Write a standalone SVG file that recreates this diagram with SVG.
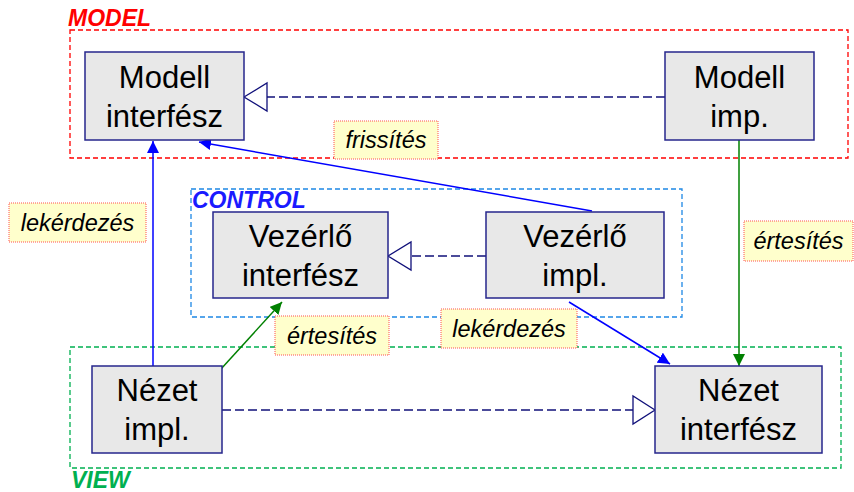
<svg xmlns="http://www.w3.org/2000/svg" width="854" height="492" viewBox="0 0 854 492">
  <style>
    .pkg { fill: none; stroke-width: 1.3; stroke-dasharray: 5 3; }
    .pkgtitle { font-family: "Liberation Sans", Arial, sans-serif; font-weight: bold; font-style: italic; font-size: 23px; }
    .node rect { fill: #E8E8E8; stroke: #26268C; stroke-width: 1.5; }
    .node text { font-family: "Liberation Sans", Arial, sans-serif; font-size: 31px; fill: #000; text-anchor: middle; }
    .real { fill: none; stroke: #10107A; stroke-width: 1.4; stroke-dasharray: 9 4; }
    .tri { fill: #fff; stroke: #10107A; stroke-width: 1.3; }
    .blue { stroke: #0000FF; stroke-width: 1.5; fill: none; }
    .green { stroke: #008000; stroke-width: 1.5; fill: none; }
    .lbl rect { fill: #FFFFCC; stroke: #FF5050; stroke-width: 1; stroke-dasharray: 1 1; }
    .lbl text { font-family: "Liberation Sans", Arial, sans-serif; font-style: italic; font-size: 23.5px; fill: #000; text-anchor: middle; }
  </style>
  <defs>
    <marker id="arrowBlue" viewBox="0 0 12 12" refX="12" refY="6" markerWidth="12" markerHeight="12" markerUnits="userSpaceOnUse" orient="auto">
      <path d="M0,0 L12,6 L0,12 Z" fill="#0000FF"/>
    </marker>
    <marker id="arrowGreen" viewBox="0 0 12 12" refX="12" refY="6" markerWidth="12" markerHeight="12" markerUnits="userSpaceOnUse" orient="auto">
      <path d="M0,0 L12,6 L0,12 Z" fill="#008000"/>
    </marker>
  </defs>

  <!-- packages -->
  <g id="pkg-model">
    <rect class="pkg" x="70" y="30" width="778" height="128" stroke="#FF0000"/>
    <text class="pkgtitle" x="68" y="26" fill="#FF0000">MODEL</text>
  </g>
  <g id="pkg-control">
    <rect class="pkg" x="191" y="189" width="491" height="128" stroke="#1E88E5"/>
    <text class="pkgtitle" x="192" y="208" fill="#1A1AFF">CONTROL</text>
  </g>
  <g id="pkg-view">
    <rect class="pkg" x="70" y="347" width="771" height="121" stroke="#00B050"/>
    <text class="pkgtitle" x="71" y="488" fill="#00B050">VIEW</text>
  </g>

  <!-- connectors -->
  <g id="connectors">
    <!-- realizations -->
    <line class="real" x1="665" y1="97" x2="267" y2="97"/>
    <path class="tri" d="M244,97 L267,83 L267,111 Z"/>
    <line class="real" x1="486" y1="256" x2="411" y2="256"/>
    <path class="tri" d="M388,256 L411,242 L411,270 Z"/>
    <line class="real" x1="222" y1="410" x2="633" y2="410"/>
    <path class="tri" d="M655,410 L633,396 L633,424 Z"/>
    <!-- queries / updates -->
    <line class="blue" x1="153" y1="366" x2="153" y2="141" marker-end="url(#arrowBlue)"/>
    <line class="blue" x1="592" y1="211" x2="199" y2="142" marker-end="url(#arrowBlue)"/>
    <line class="blue" x1="569" y1="302" x2="670" y2="364" marker-end="url(#arrowBlue)"/>
    <!-- notifications -->
    <line class="green" x1="739" y1="140" x2="739" y2="366" marker-end="url(#arrowGreen)"/>
    <line class="green" x1="221" y1="369" x2="282" y2="302" marker-end="url(#arrowGreen)"/>
  </g>

  <!-- nodes -->
  <g id="modell-interfesz" class="node">
    <rect x="85" y="52" width="159" height="88"/>
    <text x="164.5" y="88">Modell</text>
    <text x="164.5" y="127">interfész</text>
  </g>
  <g id="modell-imp" class="node">
    <rect x="665" y="52" width="149" height="88"/>
    <text x="739.5" y="88">Modell</text>
    <text x="739.5" y="127">imp.</text>
  </g>
  <g id="vezerlo-interfesz" class="node">
    <rect x="213" y="212" width="175" height="86"/>
    <text x="300.5" y="247">Vezérlő</text>
    <text x="300.5" y="286">interfész</text>
  </g>
  <g id="vezerlo-impl" class="node">
    <rect x="486" y="212" width="178" height="86"/>
    <text x="575" y="247">Vezérlő</text>
    <text x="575" y="286">impl.</text>
  </g>
  <g id="nezet-impl" class="node">
    <rect x="92" y="366" width="130" height="87"/>
    <text x="157" y="401">Nézet</text>
    <text x="157" y="440">impl.</text>
  </g>
  <g id="nezet-interfesz" class="node">
    <rect x="655" y="366" width="167" height="87"/>
    <text x="738.5" y="401">Nézet</text>
    <text x="738.5" y="440">interfész</text>
  </g>

  <!-- connector labels -->
  <g id="lbl-frissites" class="lbl">
    <rect x="334" y="121" width="104" height="38"/>
    <text x="386" y="148">frissítés</text>
  </g>
  <g id="lbl-lekerdezes-left" class="lbl">
    <rect x="9" y="203" width="137" height="39"/>
    <text x="77.5" y="231">lekérdezés</text>
  </g>
  <g id="lbl-ertesites-right" class="lbl">
    <rect x="744" y="221" width="109" height="40"/>
    <text x="798.5" y="249">értesítés</text>
  </g>
  <g id="lbl-ertesites-mid" class="lbl">
    <rect x="275" y="316" width="114" height="39"/>
    <text x="332" y="344">értesítés</text>
  </g>
  <g id="lbl-lekerdezes-mid" class="lbl">
    <rect x="441" y="309" width="136" height="39"/>
    <text x="509" y="337">lekérdezés</text>
  </g>
</svg>
